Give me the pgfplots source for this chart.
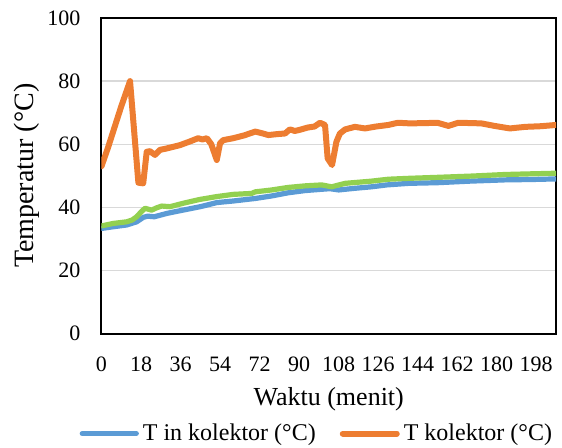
\documentclass[border=0pt]{standalone}
\usepackage{fontspec}
\setmainfont{Liberation Serif}
\usepackage{pgfplots}
\pgfplotsset{compat=1.18}
\definecolor{cblue}{HTML}{5B9BD5}
\definecolor{corange}{HTML}{ED7D31}
\definecolor{cgreen}{HTML}{92D050}
\definecolor{cgrid}{HTML}{D9D9D9}

\begin{document}
\begin{tikzpicture}
\path[use as bounding box] (-50.75pt,-56.75pt) rectangle (230.25pt,166.75pt);
\begin{axis}[
  scale only axis, width=227.25pt, height=157.75pt,
  xmin=0, xmax=207, ymin=0, ymax=100,
  xtick={0,18,...,198}, ytick={0,20,...,100},
  major tick length=0pt,
  ymajorgrids, grid style={cgrid, line width=0.7pt},
  axis line style={black, line width=1pt},
  /pgf/number format/assume math mode=true,
  ticklabel style={font=\fontsize{11}{13}\selectfont},
  xticklabel style={anchor=center, yshift=-15.25pt},
  yticklabel style={anchor=east, xshift=-7pt},
  xlabel={Waktu (menit)},
  ylabel={Temperatur (°C)},
  xlabel style={at={(axis description cs:0.5,-0.2076)}, anchor=center, font=\fontsize{13}{15}\selectfont},
  ylabel style={at={(axis description cs:-0.164,0.5)}, anchor=center, font=\fontsize{14}{16}\selectfont},
  legend style={at={(axis description cs:0.476,-0.317)}, anchor=center, draw=none, fill=none,
    font=\fontsize{12}{14}\selectfont, /tikz/every even column/.append style={column sep=10pt}},
  legend columns=2,
  legend image code/.code={\draw[#1] (0pt,0pt) -- (27pt,0pt);},
  every axis plot/.append style={line join=round, line cap=round},
]
\addplot[cblue, line width=2.6pt] coordinates {
(0,33.3)(5,33.8)(11.5,34.4)(16,35.4)(19,36.8)(21,37.2)(24,37.0)(30,38.1)(37,39.1)(45,40.2)
(52.5,41.5)(60,42.0)(70,42.8)(77.5,43.6)(85,44.6)(92.7,45.3)(100,45.7)(104,45.9)(108,45.5)
(115,46.0)(123,46.5)(130,47.1)(140,47.6)(153,47.8)(168,48.3)(184,48.7)(195,48.8)(207,49.0)
};
\addlegendentry{T in kolektor (°C)}
\addplot[corange, line width=3pt] coordinates {
(0,53)(3,59)(6,65.5)(9,72)(13,80)(16.8,47.8)(19,47.6)(20.6,57.6)(22,57.8)(24.4,56.6)(26.6,58.2)
(30,58.7)(35.7,59.7)(40,60.8)(44,61.9)(46,61.5)(48,61.9)(50,60)(52.5,55)(54,60.3)(55.5,61.3)
(60,61.9)(65,62.8)(70,64)(73,63.5)(76,62.9)(80,63.2)(83.6,63.4)(85.8,64.7)(88,64.2)(90,64.5)
(94,65.3)(97,65.6)(99.5,66.8)(101.8,66.1)(103,55.5)(105,53.4)(107,60.8)(108.6,63.4)(111,64.7)
(115.4,65.5)(120,65)(125,65.6)(130.6,66.1)(135,66.8)(140.5,66.6)(148,66.7)(153,66.8)(158,65.8)
(162.5,66.8)(168,66.7)(173,66.6)(179,65.8)(186,65)(193,65.5)(200,65.7)(207,66.1)
};
\addlegendentry{T kolektor (°C)}
\addplot[cgreen, line width=2.6pt, forget plot] coordinates {
(0,34.1)(5.4,34.9)(11.5,35.4)(14,36)(16,37)(18,38.5)(19.8,39.7)(22.8,39.1)(25,39.8)(27.4,40.4)
(31.2,40.2)(37.3,41.3)(44.8,42.5)(52.5,43.4)(60,44.1)(68.4,44.4)(70,44.9)(77.5,45.5)(85,46.3)
(92.7,46.8)(100.3,47.1)(104.8,46.5)(111,47.6)(123,48.3)(130.6,48.9)(140.5,49.2)(153,49.5)
(168.6,49.9)(183.7,50.4)(195,50.6)(207,50.8)
};
\end{axis}
\end{tikzpicture}
\end{document}
